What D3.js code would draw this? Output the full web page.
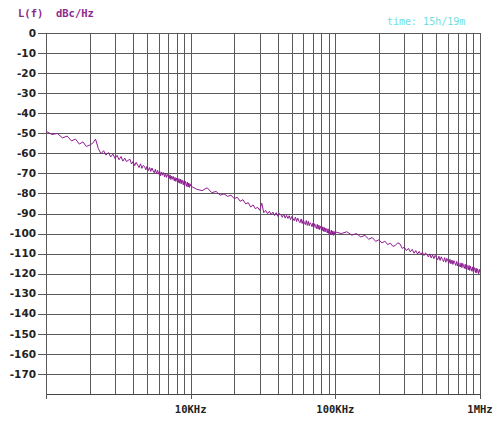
<!DOCTYPE html>
<html><head><meta charset="utf-8">
<script src="https://cdn.jsdelivr.net/npm/d3@7"></script>
<style>html,body{margin:0;padding:0;background:#fff;}svg{display:block;}</style>
</head><body>
<svg id="c" width="494" height="428"></svg>
<script>
// Sweep mantissas within each decade (analyzer grid)
const sweepMantissas = [1.0,1.1,1.2,1.3,1.4,1.5,1.6,1.7,1.8,1.9,2.0,2.1,2.2,2.3,2.4,2.5,2.6,2.7,2.8,2.9,
3.0,3.1,3.2,3.3,3.4,3.5,3.6,3.7,3.8,3.9,4.0,4.1,4.2,4.3,4.4,4.5,4.6,4.7,4.8,4.9,
5.0,5.1,5.2,5.3,5.4,5.5,5.6,5.7,5.8,5.9,6.0,6.1,6.2,6.3,6.4,6.5,6.6,6.7,6.8,6.9,
7.0,7.1,7.2,7.3,7.4,7.5,7.6,7.7,7.8,7.9,8.0,8.1,8.2,8.3,8.4,8.5,8.6,8.7,8.8,8.9,
9.0,9.1,9.2,9.3,9.4,9.5,9.6,9.7,9.8,9.9];
const decadeStarts = [1e3, 1e4, 1e5];
// Phase noise L(f) in dBc/Hz, one array per decade
const noise1kHz = [-49.0,-50.6,-50.1,-52.3,-51.4,-53.8,-52.9,-55.4,-54.3,-56.6,-55.9,-55.0,-52.9,-57.6,-60.2,-58.7,-60.9,-59.6,-61.8,-60.4,
-62.5,-61.0,-63.2,-61.6,-63.9,-62.4,-64.1,-63.5,-62.9,-65.3,-64.0,-66.2,-64.5,-65.9,-67.1,-65.2,-67.5,-66.0,-66.6,-68.2,
-66.4,-68.6,-67.1,-69.0,-67.3,-68.8,-69.7,-67.9,-70.1,-68.5,-70.4,-68.8,-71.2,-69.3,-70.9,-69.6,-71.8,-69.9,-72.0,-70.5,
-71.4,-72.6,-70.7,-73.1,-71.3,-72.9,-71.6,-73.8,-72.0,-74.0,-72.3,-73.5,-74.6,-72.6,-74.9,-73.0,-75.2,-73.2,-74.4,-75.7,
-73.6,-76.0,-74.0,-75.1,-76.5,-74.3,-76.8,-74.8,-77.0,-75.2];
const noise10kHz = [-76.3,-77.9,-78.6,-77.2,-79.6,-79.0,-80.9,-80.2,-81.5,-80.8,-82.6,-81.9,-83.9,-83.1,-85.2,-84.6,-86.8,-85.7,-87.6,-86.9,
-88.4,-84.8,-89.6,-88.5,-90.1,-88.9,-90.6,-89.3,-91.0,-89.6,-91.4,-90.0,-90.6,-91.9,-90.3,-92.3,-90.9,-92.5,-91.1,-93.0,
-91.5,-92.6,-93.6,-91.8,-94.0,-92.3,-93.8,-94.6,-92.7,-95.0,-93.1,-94.4,-95.5,-93.5,-95.9,-93.9,-96.1,-94.6,-95.3,-96.6,
-94.8,-97.0,-95.1,-96.4,-97.5,-95.4,-97.8,-95.8,-98.1,-96.3,-97.2,-98.6,-96.6,-98.9,-97.0,-99.2,-97.3,-98.4,-99.7,-97.6,
-100.0,-98.0,-99.1,-100.4,-98.3,-100.7,-98.7,-100.9,-99.0,-100.3];
const noise100kHz = [-99.2,-100.0,-99.1,-100.8,-100.0,-101.7,-100.9,-102.8,-102.0,-103.9,-103.1,-104.7,-103.8,-105.5,-104.8,-106.4,-105.9,-104.6,-105.2,-107.4,
-106.8,-108.5,-107.4,-109.1,-107.9,-109.8,-108.5,-110.2,-108.9,-110.6,-109.3,-111.0,-109.7,-110.4,-111.7,-110.1,-112.2,-110.6,-112.5,-110.9,
-112.0,-113.1,-111.3,-113.4,-111.6,-113.0,-114.0,-112.0,-114.3,-112.4,-113.6,-114.8,-112.8,-115.1,-113.2,-115.4,-113.5,-114.6,-115.9,-113.9,
-116.2,-114.2,-115.5,-116.7,-114.6,-117.0,-114.9,-116.3,-117.4,-115.3,-117.7,-115.6,-116.9,-118.1,-115.9,-118.4,-116.3,-117.5,-118.8,-116.6,
-119.0,-116.9,-118.1,-119.4,-117.2,-119.6,-117.6,-118.7,-120.0,-117.9];
const endPoint = [1e6, -119.3];
const yTicks = [0,-10,-20,-30,-40,-50,-60,-70,-80,-90,-100,-110,-120,-130,-140,-150,-160,-170];
const xLabels = [[1e4,"10KHz"],[1e5,"100KHz"],[1e6,"1MHz"]];
const gridMultipliers = [1,2,3,4,5,6,7,8,9];

const svg = d3.select("#c");
const x = d3.scaleLog().domain([1e3,1e6]).range([46,480]);
const y = d3.scaleLinear().domain([0,-180]).range([33,394]);
const gridColor = "#5a5a5a";

const series = [];
const decadeArrays = [noise1kHz, noise10kHz, noise100kHz];
decadeStarts.forEach((d,i)=>{
  sweepMantissas.forEach((m,j)=>series.push([d*m, decadeArrays[i][j]]));
});
series.push(endPoint);

// vertical grid
const vg = [];
decadeStarts.forEach(d=>gridMultipliers.forEach(m=>vg.push(d*m)));
vg.push(1e6);
svg.append("g").selectAll("line").data(vg).join("line")
  .attr("x1",d=>Math.round(x(d))+0.5).attr("x2",d=>Math.round(x(d))+0.5)
  .attr("y1",y(0)).attr("y2",y(-180))
  .attr("stroke",gridColor).attr("stroke-width",1);

// horizontal grid
svg.append("g").selectAll("line").data(yTicks).join("line")
  .attr("x1",38).attr("x2",x(1e6)+0.5)
  .attr("y1",d=>Math.round(y(d))+0.5).attr("y2",d=>Math.round(y(d))+0.5)
  .attr("stroke",gridColor).attr("stroke-width",1);

// bottom axis line
svg.append("line").attr("x1",x(1e3)).attr("x2",x(1e6)+1)
  .attr("y1",Math.round(y(-180))+0.5).attr("y2",Math.round(y(-180))+0.5)
  .attr("stroke","#444").attr("stroke-width",1.2);
svg.append("g").selectAll("line").data([1e3,1e4,1e5,1e6]).join("line")
  .attr("x1",d=>Math.round(x(d))+0.5).attr("x2",d=>Math.round(x(d))+0.5)
  .attr("y1",y(-180)).attr("y2",y(-180)+5)
  .attr("stroke","#555");

// y labels
svg.append("g").selectAll("text").data(yTicks).join("text")
  .attr("x",36).attr("y",d=>y(d)).attr("dy","0.35em")
  .attr("text-anchor","end")
  .attr("font-family","'DejaVu Sans', sans-serif").attr("font-weight","bold")
  .attr("font-size","10.5px").attr("fill","#222")
  .text(d=>d);

// x labels
svg.append("g").selectAll("text").data(xLabels).join("text")
  .attr("x",d=>x(d[0])).attr("y",413)
  .attr("text-anchor","middle")
  .attr("font-family","'DejaVu Sans Mono', monospace").attr("font-weight","bold")
  .attr("font-size","10.5px").attr("fill","#222")
  .text(d=>d[1]);

// title labels
svg.append("text").attr("x",18).attr("y",17)
  .attr("font-family","'DejaVu Sans Mono', monospace").attr("font-weight","bold")
  .attr("font-size","10.5px").attr("fill","#8e2a8e").attr("xml:space","preserve")
  .text("L(f)  dBc/Hz");
svg.append("text").attr("x",387).attr("y",25)
  .attr("font-family","'DejaVu Sans Mono', monospace")
  .attr("font-size","10px").attr("fill","#70dede")
  .text("time: 15h/19m");

// trace
const line = d3.line().x(d=>x(d[0])).y(d=>y(d[1]));
svg.append("path").datum(series).attr("d",line)
  .attr("fill","none").attr("stroke","#8e1a92").attr("stroke-width",1);
</script>
</body></html>
